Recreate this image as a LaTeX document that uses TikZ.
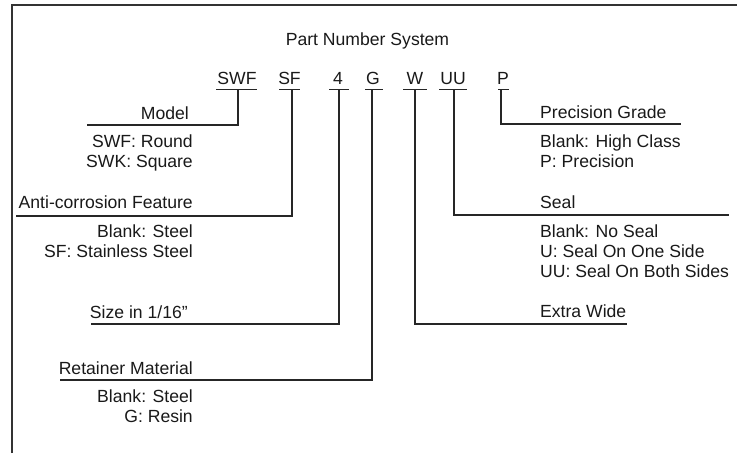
\documentclass[tikz,border=0pt]{standalone}
\usepackage{fontspec}
\setmainfont{Liberation Sans}
\begin{document}
\begin{tikzpicture}[x=1pt,y=-1pt,
  txt/.style={inner sep=0pt,font=\fontsize{17.6}{20}\selectfont,text=black!90},
  lbl/.style={txt,anchor=base east},
  rlbl/.style={txt,anchor=base west},
  code/.style={txt,anchor=base},
  ul/.style={line width=1.4pt,draw=black!85},
  conn/.style={line width=1.8pt,draw=black!85},
  frame/.style={line width=2pt,draw=black!80}]
\useasboundingbox (0,0) rectangle (737,453);
% frame (open at right and bottom)
\draw[frame] (12,453) -- (12,5) -- (740,5);
% title
\node[code] (title) at (367.5,45) {Part Number System};
% codes
\node[code] (cSWF) at (237,84) {SWF};
\node[code] (cSF) at (289.5,84) {SF};
\node[code] (c4) at (338,84) {4};
\node[code] (cG) at (373,84) {G};
\node[code] (cW) at (415,84) {W};
\node[code] (cUU) at (453,84) {UU};
\node[code] (cP) at (503,84) {P};
% underlines
\draw[ul] (216,89.5) -- (257,89.5);
\draw[ul] (279,89.5) -- (300,89.5);
\draw[ul] (329,89.5) -- (349,89.5);
\draw[ul] (365,89.5) -- (383,89.5);
\draw[ul] (403,89.5) -- (427,89.5);
\draw[ul] (439,89.5) -- (467,89.5);
\draw[ul] (498,89.5) -- (509,89.5);
% connector start points
\coordinate (sSWF) at (238,89.5);
\coordinate (sSF) at (292,89.5);
\coordinate (s4) at (339,89.5);
\coordinate (sG) at (372,89.5);
\coordinate (sW) at (415,89.5);
\coordinate (sUU) at (454,89.5);
\coordinate (sP) at (501,89.5);
% connector end points
\coordinate (eModel) at (87,125);
\coordinate (eAnti) at (16,216);
\coordinate (eSize) at (91,324);
\coordinate (eRet) at (60,380);
\coordinate (eExtra) at (627,324);
\coordinate (eSeal) at (729,215);
\coordinate (ePrec) at (681,124);
% labels left
\node[lbl] (model) at (189,119) {Model};
\node[lbl] (modelv1) at (193,147) {SWF: Round};
\node[lbl] (modelv2) at (193,167) {SWK: Square};
\node[lbl] (anti) at (193,208) {Anti-corrosion Feature};
\node[lbl] (antiv1) at (193,237) {Blank: Steel};
\node[lbl] (antiv2) at (193,257) {SF: Stainless Steel};
\node[lbl] (size) at (188,318) {Size in 1/16\symbol{34}};
\node[lbl] (ret) at (193,374) {Retainer Material};
\node[lbl] (retv1) at (193,402) {Blank: Steel};
\node[lbl] (retv2) at (193,422) {G: Resin};
% labels right
\node[rlbl] (prec) at (540,118) {Precision Grade};
\node[rlbl] (precv1) at (540,147) {Blank: High Class};
\node[rlbl] (precv2) at (540,167) {P: Precision};
\node[rlbl] (seal) at (540,208) {Seal};
\node[rlbl] (sealv1) at (540,237) {Blank: No Seal};
\node[rlbl] (sealv2) at (540,257) {U: Seal On One Side};
\node[rlbl] (sealv3) at (540,277) {UU: Seal On Both Sides};
\node[rlbl] (extra) at (540,317) {Extra Wide};
% connectors
\draw[conn] (sSWF) |- (eModel);
\draw[conn] (sSF) |- (eAnti);
\draw[conn] (s4) |- (eSize);
\draw[conn] (sG) |- (eRet);
\draw[conn] (sW) |- (eExtra);
\draw[conn] (sUU) |- (eSeal);
\draw[conn] (sP) |- (ePrec);
\end{tikzpicture}
\end{document}
